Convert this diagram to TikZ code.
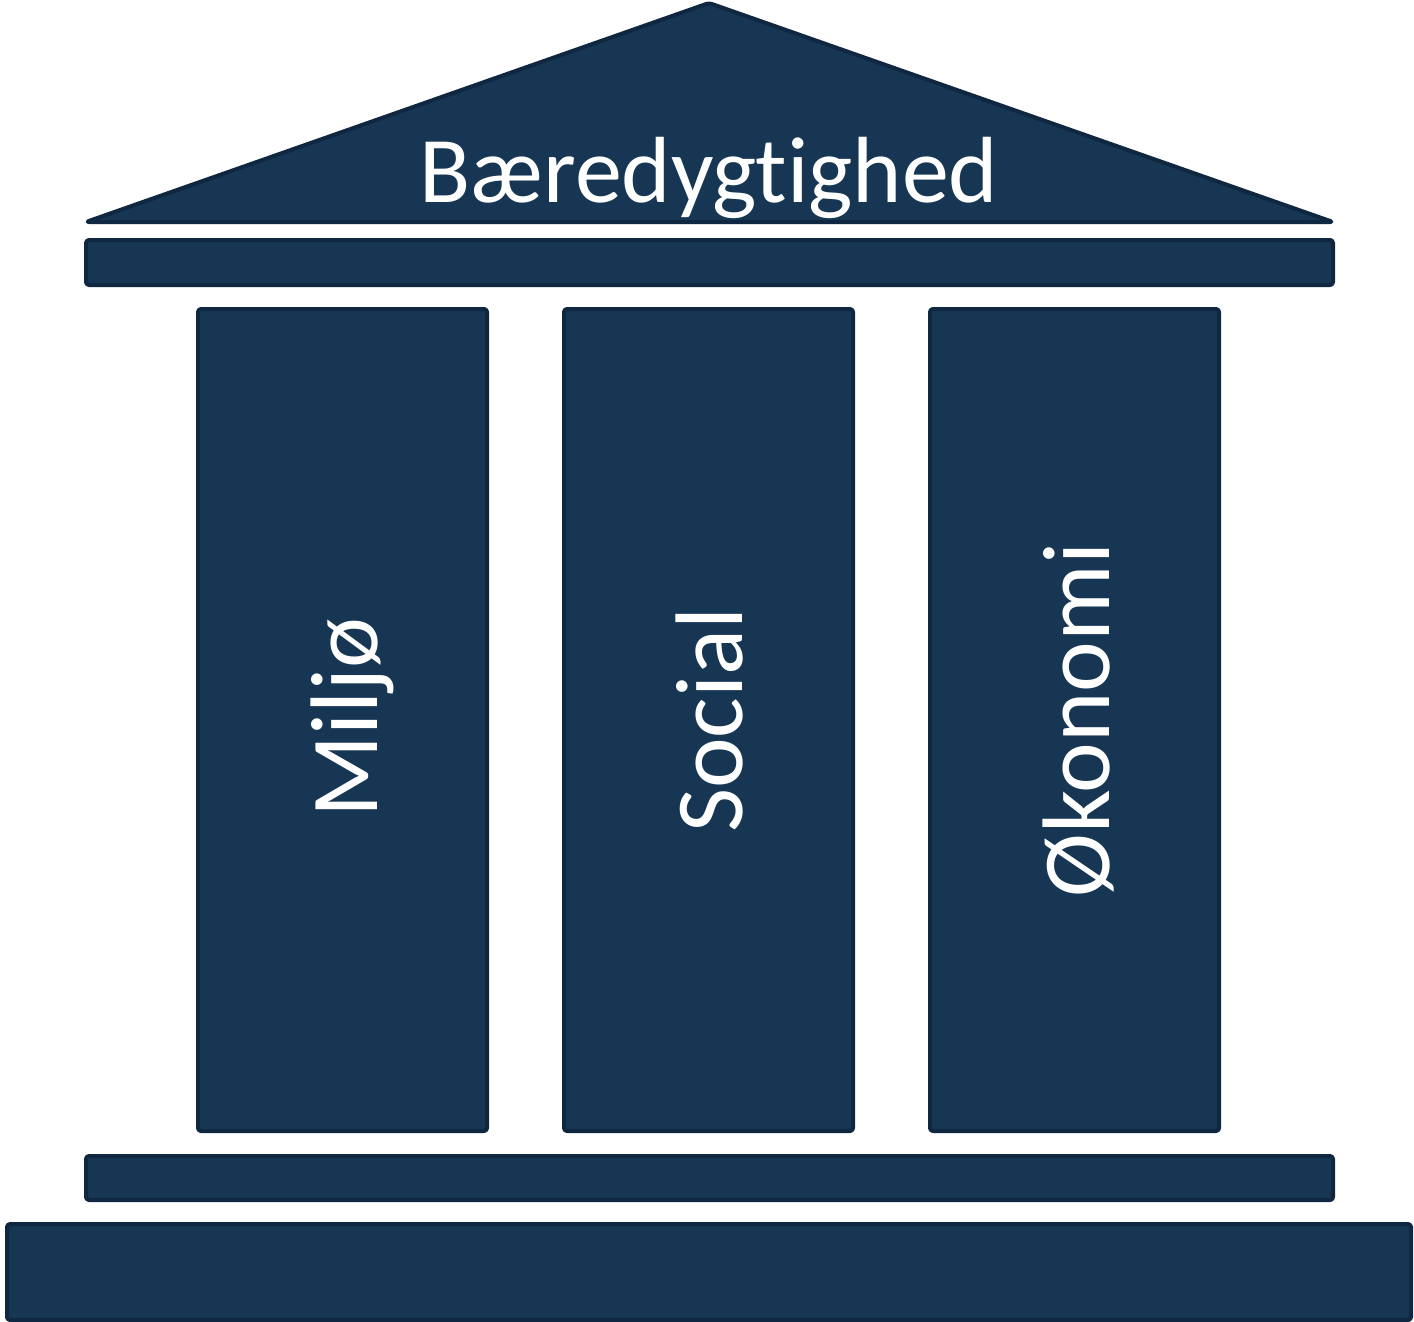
\documentclass[tikz,border=0pt]{standalone}
\usepackage{fontspec}
\setmainfont[Ligatures={NoCommon}]{Carlito}
\definecolor{navy}{HTML}{173653}
\definecolor{navyedge}{HTML}{0F2740}
\begin{document}
\begin{tikzpicture}[x=0.5pt,y=-0.5pt,
  part/.style={fill=navy,draw=navyedge,line width=2pt,rounded corners=1.5pt,line join=round},
  lbl/.style={text=white,font=\fontsize{48}{55}\selectfont,inner sep=0pt}]
\useasboundingbox (0,0) rectangle (1414,1322);
\draw[part] (709,3) -- (1333,222) -- (86,222) -- cycle;
\node[lbl,anchor=base,font=\fontsize{47}{55}\selectfont] (roof) at (709,202) {Bæredygtighed};
\draw[part] (86,240) rectangle (1333,285);
\draw[part] (198,309) rectangle (487,1131);
\draw[part] (564,309) rectangle (853,1131);
\draw[part] (930,309) rectangle (1219,1131);
\draw[part] (86,1156) rectangle (1333,1200);
\draw[part] (7,1224) rectangle (1411,1320);
\node[lbl,rotate=90,anchor=base] (m) at (377,718) {Miljø};
\node[lbl,rotate=90,anchor=base] (s) at (742,720) {Social};
\node[lbl,rotate=90,anchor=base] (o) at (1109,720) {Økonomi};
\end{tikzpicture}
\end{document}
